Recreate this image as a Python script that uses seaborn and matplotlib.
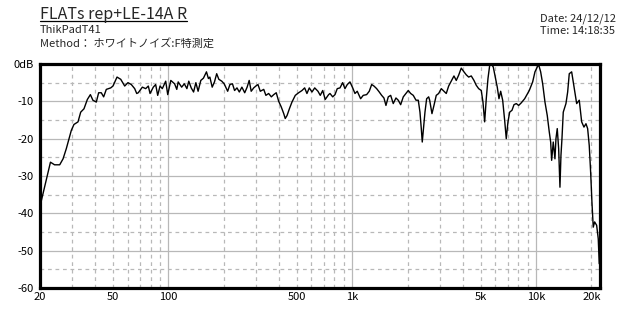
import matplotlib
matplotlib.use("Agg")
import matplotlib.pyplot as plt
import matplotlib.ticker as mticker
from matplotlib.lines import Line2D
import seaborn as sns
import pandas as pd

# ---------------- data ----------------
freq_hz = [
    20, 20.3, 22.8, 24.0, 25.6, 26.7, 27.8, 29.6, 30.6, 32.2, 33.3, 34.7, 36.2, 37.6, 38.8,
    40.5, 41.7, 43.1, 44.4, 45.9, 48.5, 49.9, 52.5, 55.0, 57.8, 60.2, 62.8, 65.5, 67.2,
    68.5, 72.1, 75.2, 77.7, 79.4, 82.7, 85.2, 87.4, 90.0, 92.6, 96.6, 99.1, 103, 108, 111,
    113, 118, 122, 126, 129, 133, 137, 141, 145, 150, 155, 161, 165, 168, 173, 178, 183, 188,
    195, 201, 210, 216,
    223, 229, 236, 243, 251, 260, 268, 275, 282, 291, 299, 307, 316, 330, 339, 351, 363, 374,
    386, 398, 411, 424, 432, 442, 455, 470, 490, 511, 533, 551, 567, 584, 604, 625, 651, 670,
    691, 713, 744, 757,
    783, 806, 829, 858, 887, 913, 940, 972, 1006, 1035, 1065, 1111, 1148, 1198, 1238, 1276,
    1313, 1358, 1403, 1446, 1488, 1526, 1571, 1619, 1672, 1730, 1780, 1835, 1896, 1961, 2018,
    2080, 2149, 2223, 2288, 2337, 2376, 2405, 2436, 2488, 2541, 2606,
    2639, 2716, 2785, 2866, 2953, 3052, 3157, 3249, 3348, 3459, 3578, 3683, 3794, 3920, 4055,
    4174, 4301, 4444, 4597, 4731, 4875, 5037, 5146, 5256, 5363, 5479, 5597, 5710, 5855, 6003,
    6156, 6288, 6424, 6587, 6753, 6890, 7039, 7191, 7402, 7590, 7811, 8048, 8316, 8678, 9043,
    9192, 9592, 9872, 10162, 10342, 10602, 10872, 11190, 11516, 11810, 12018, 12168, 12414,
    12682, 12842, 13052, 13284, 13502, 13672, 13846, 14072, 14556, 14870, 15172, 15634, 15950,
    16294, 16646, 17196, 17722, 18240, 18704, 19100, 19486, 19830, 20158, 20490, 20852, 21382,
    21816, 22088,
]
level_db = [
    -37.5, -36.8, -26.3, -27.0, -27.0, -25.4, -22.7, -17.8, -16.2, -15.5, -12.9, -12.0, -9.5,
    -8.2, -9.7, -10.2, -7.7, -7.7, -8.8, -6.8, -6.4, -5.9, -3.5, -4.1, -5.9, -5.0, -5.5, -6.6,
    -7.9,
    -7.7, -6.2, -6.6, -5.9, -7.9, -6.2, -5.5, -8.4, -5.9, -6.6, -4.6, -8.2, -4.4, -5.3, -6.8,
    -4.8, -6.2, -5.3, -6.6, -4.6, -6.4, -7.5, -5.0, -7.3, -4.4, -3.8, -2.1, -3.9, -3.5, -6.2,
    -4.8, -2.6, -4.1, -4.6, -5.3, -7.3, -5.5,
    -5.3, -7.1, -6.4, -7.5, -6.2, -7.7, -6.2, -4.4, -7.3, -6.4, -5.9, -5.5, -7.3, -6.8, -8.4,
    -7.9, -8.8, -8.2, -7.7, -10.0, -11.5, -13.3, -14.6, -13.8, -12.0, -10.2, -8.4, -7.7, -7.1,
    -6.4, -7.9, -6.4, -7.5, -6.4, -7.3, -8.4, -7.1, -9.5, -8.2, -7.9,
    -8.8, -8.2, -6.6, -6.4, -5.0, -6.6, -5.5, -4.8, -6.4, -7.9, -7.3, -9.3, -8.4, -8.2, -7.3,
    -5.5, -5.9, -6.6, -7.5, -8.4, -9.1, -11.1, -8.8, -8.4, -10.6, -9.1, -9.7, -10.9, -8.8,
    -7.9, -7.1, -7.9, -8.4, -9.7, -9.7, -12.9, -17.3, -20.9, -17.8, -12.9, -9.3, -8.8,
    -9.7, -13.3, -11.1, -8.4, -7.9, -6.6, -7.3, -7.9, -5.9, -4.6, -3.2, -4.4, -3.0, -1.1, -2.1,
    -2.9, -3.5, -3.2, -4.4, -5.7, -6.6, -7.1, -10.2, -15.5, -9.3, -3.9, -0.4, 0.0, -0.8, -3.5,
    -6.2, -9.3, -7.3, -9.7, -15.1, -20.0, -15.5, -12.9, -12.4, -10.9, -10.6, -11.1, -10.4,
    -9.3, -7.7,
    -7.1, -4.8, -2.1, -0.8, -0.2, -2.1, -5.3, -10.2, -13.8, -18.2, -20.9, -25.8, -20.9, -25.4,
    -20.0, -17.3, -22.7, -33.0, -24.5, -20.0, -12.9, -10.6, -7.5, -2.6, -2.1, -4.8, -7.5,
    -10.6, -9.7, -15.5, -16.9, -16.0, -17.3, -21.8, -28.9, -37.0, -43.7, -42.3, -43.2, -46.8,
    -53.5,
]

x_label_ticks = [20, 50, 100, 500, 1000, 5000, 10000, 20000]
x_label_texts = ["20", "50", "100", "500", "1k", "5k", "10k", "20k"]
y_major = [-60, -50, -40, -30, -20, -10, 0]
y_labels = ["-60", "-50", "-40", "-30", "-20", "-10", "0dB"]

title_text = "FLATs rep+LE-14A R"
sub1_text = "ThikPadT41"
sub2_text = "Method： ホワイトノイズ:F特測定"
date_text = "Date: 24/12/12"
time_text = "Time: 14:18:35"

# ---------------- style ----------------
sns.set_style("white")
plt.rcParams["font.family"] = ["Noto Sans CJK JP", "DejaVu Sans"]

fig = plt.figure(figsize=(6.4, 3.2), dpi=100)
ax = fig.add_axes([40 / 640, 1 - 288 / 320, 560 / 640, 224 / 320])

df = pd.DataFrame({"freq": freq_hz, "db": level_db})
sns.lineplot(data=df, x="freq", y="db", ax=ax, color="black", lw=1.0, sort=False, zorder=5)

ax.set_xscale("log")
ax.set_xlim(20, 22300)
ax.set_ylim(-60, 0)

# x ticks: major (solid grid) at decades, minor (dashed grid) elsewhere
major_x = [100, 1000, 10000]
minor_x = [m * d for d in (10, 100, 1000, 10000) for m in range(2, 10) if m * d <= 20000 and m * d >= 20]
ax.xaxis.set_major_locator(mticker.FixedLocator(major_x))
ax.xaxis.set_minor_locator(mticker.FixedLocator(minor_x))
lab = dict(zip(x_label_ticks, x_label_texts))
ax.xaxis.set_major_formatter(mticker.FuncFormatter(lambda v, p: lab.get(int(round(v)), "")))
ax.xaxis.set_minor_formatter(mticker.FuncFormatter(lambda v, p: lab.get(int(round(v)), "")))

ax.yaxis.set_major_locator(mticker.FixedLocator(y_major))
ax.yaxis.set_major_formatter(mticker.FixedFormatter(y_labels))
ax.yaxis.set_minor_locator(mticker.FixedLocator([v + 5 for v in y_major[:-1]]))

ax.grid(True, which="major", color="#b8b8b8", lw=0.9, ls="-")
ax.grid(True, which="minor", color="#b8b8b8", lw=0.9, ls=(0, (3, 3)))
ax.set_axisbelow(True)

for s in ax.spines.values():
    s.set_visible(True)
    s.set_color("black")
    s.set_linewidth(2.3)

ax.tick_params(axis="both", which="both", length=2.5, width=0.8, colors="black",
               labelsize=8, pad=2, direction="out")
ax.tick_params(axis="y", which="minor", length=0)
ax.tick_params(axis="x", which="both", length=0, pad=3)
ax.set_xlabel("")
ax.set_ylabel("")

# ---------------- header texts ----------------
t = fig.text(40 / 640, 1 - 19 / 320, title_text, fontsize=11.5, ha="left", va="baseline")
fig.text(40 / 640, 1 - 33 / 320, sub1_text, fontsize=8, ha="left", va="baseline")
fig.text(40 / 640, 1 - 47 / 320, sub2_text, fontsize=8, ha="left", va="baseline")
fig.text(540 / 640, 1 - 22 / 320, date_text, fontsize=8, ha="left", va="baseline")
fig.text(540 / 640, 1 - 34 / 320, time_text, fontsize=8, ha="left", va="baseline")

fig.canvas.draw()
bb = t.get_window_extent()
uy = (1 - 21 / 320)
fig.add_artist(Line2D([bb.x0 / 640, bb.x1 / 640], [uy, uy], transform=fig.transFigure,
                      color="black", lw=0.9))

fig.savefig("out.png", dpi=100, facecolor="white")
